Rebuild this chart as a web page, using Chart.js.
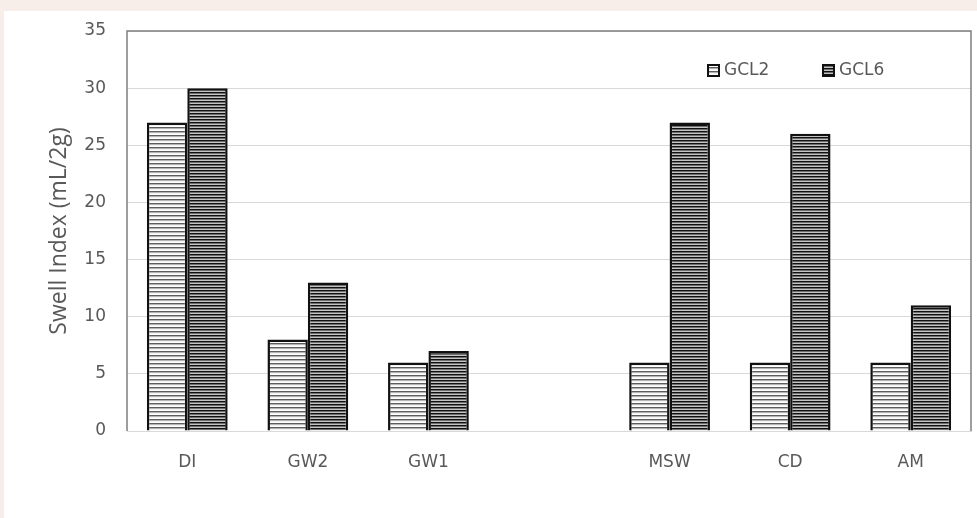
<!DOCTYPE html>
<html>
<head>
<meta charset="utf-8">
<script src="https://cdn.jsdelivr.net/npm/chart.js@4.4.0/dist/chart.umd.min.js"></script>
<style>
  html, body { margin: 0; padding: 0; background: #f7eee9; }
  #wrap { position: absolute; left: 4px; top: 11px; width: 973px; height: 507px; background: #fff; }
</style>
</head>
<body>
<div id="wrap"><canvas id="chart"></canvas></div>
<script>
// data
const categories = ['DI', 'GW2', 'GW1', '', 'MSW', 'CD', 'AM'];
const gcl2 = [27, 8, 6, null, 6, 6, 6];
const gcl6 = [30, 13, 7, null, 27, 26, 11];
const yTicks = [0, 5, 10, 15, 20, 25, 30, 35];

const textColor = '#595959';

// striped fill patterns
function makeStripes(rows) {
    const c = document.createElement('canvas');
    c.width = 4;
    c.height = rows.length;
    const g = c.getContext('2d');
    rows.forEach((col, i) => {
        g.fillStyle = col;
        g.fillRect(0, i, 4, 1);
    });
    return g.createPattern(c, 'repeat');
}
const pat2 = makeStripes(['#5c5c5c', '#b4b4b4', '#f2f2f2', '#ffffff']);
const pat6 = makeStripes(['#111111', '#6e6e6e', '#c4c4c4']);

// frame round the plot + legend inside the plot
const framePlugin = {
    id: 'frame',
    afterDraw(chart) {
        const ctx = chart.ctx;
        const a = chart.chartArea;
        ctx.save();
        ctx.strokeStyle = '#7f7f7f';
        ctx.lineWidth = 1.5;
        ctx.beginPath();
        ctx.moveTo(a.left, a.bottom);
        ctx.lineTo(a.left, a.top);
        ctx.lineTo(a.right, a.top);
        ctx.lineTo(a.right, a.bottom);
        ctx.stroke();

        // legend
        const items = [
            { label: 'GCL2', fill: pat2, x: 704 },
            { label: 'GCL6', fill: pat6, x: 819 }
        ];
        ctx.font = '17px "DejaVu Sans"';
        ctx.textBaseline = 'middle';
        items.forEach(it => {
            ctx.fillStyle = it.fill;
            ctx.fillRect(it.x, 54, 11, 11);
            ctx.strokeStyle = '#111';
            ctx.lineWidth = 2;
            ctx.strokeRect(it.x, 54, 11, 11);
            ctx.fillStyle = textColor;
            ctx.fillText(it.label, it.x + 16, 60);
        });
        ctx.restore();
    }
};

new Chart(document.getElementById('chart'), {
    type: 'bar',
    data: {
        labels: categories,
        datasets: [{
            label: 'GCL2',
            data: gcl2,
            backgroundColor: pat2,
            borderColor: '#111',
            borderWidth: 2.5
        }, {
            label: 'GCL6',
            data: gcl6,
            backgroundColor: pat6,
            borderColor: '#111',
            borderWidth: 2.5
        }]
    },
    options: {
        responsive: true,
        maintainAspectRatio: false,
        animation: false,
        layout: { padding: { left: 0, right: 6, top: 20, bottom: 0 } },
        datasets: {
            bar: { barPercentage: 1, categoryPercentage: 0.67 }
        },
        plugins: {
            legend: { display: false },
            tooltip: { enabled: false }
        },
        scales: {
            x: {
                grid: { display: false, drawTicks: false },
                border: { color: '#d9d9d9', width: 1 },
                ticks: {
                    color: textColor,
                    font: { family: 'DejaVu Sans', size: 17 },
                    padding: 21,
                    maxRotation: 0
                },
                afterFit(scale) { scale.height = 87; }
            },
            y: {
                min: 0,
                max: 35,
                afterBuildTicks(scale) {
                    scale.ticks = yTicks.map(v => ({ value: v }));
                },
                grid: { color: '#d9d9d9', drawTicks: false },
                border: { display: false },
                ticks: {
                    color: textColor,
                    font: { family: 'DejaVu Sans', size: 17 },
                    padding: 21
                },
                title: {
                    display: true,
                    text: 'Swell Index (mL/2g)',
                    color: textColor,
                    font: { family: 'Open Sans', size: 23 },
                    padding: { top: 42, bottom: 0 }
                },
                afterFit(scale) {
                    scale.width = 123;
                    scale.paddingTop = 0;
                    scale.paddingBottom = 0;
                }
            }
        }
    },
    plugins: [framePlugin]
});
</script>
</body>
</html>
